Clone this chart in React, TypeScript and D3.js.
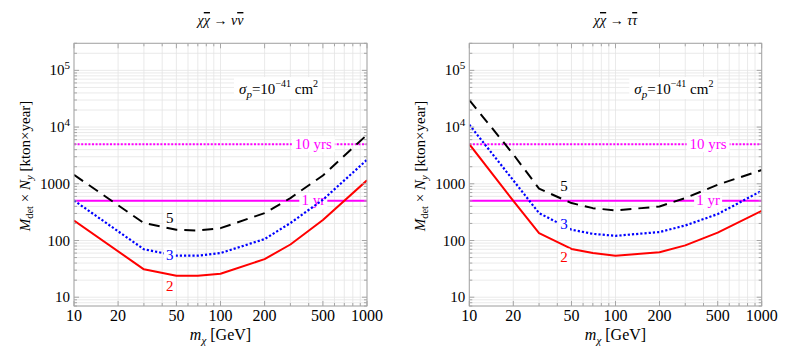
import React from "react";
import * as d3 from "d3";

// --- data ---
const massNu = [10, 30, 50, 70, 100, 200, 300, 500, 1000];
const nuSigma2 = [225, 31, 24, 24, 26, 47, 85, 230, 1150];
const nuSigma3 = [508, 70, 54, 54, 60, 106, 203, 523, 2650];
const nuSigma5 = [1440, 203, 155, 150, 165, 304, 560, 1400, 7300];

const massTau = [10, 20, 30, 50, 70, 100, 200, 300, 500, 1000];
const tauSigma2 = [5000, 500, 135, 71, 60, 54, 62, 82, 138, 334];
const tauSigma3 = [11000, 1150, 304, 155, 131, 121, 141, 184, 292, 753];
const tauSigma5 = [30000, 3300, 820, 457, 372, 339, 398, 560, 960, 1750];

const sigmaLabels = ["2", "3", "5"];
const nuLabelAt = [[45, 16], [45, 56], [45, 251]];
const tauLabelAt = [[44.5, 52], [44.5, 197], [44.5, 920]];

const xTickValues = [10, 20, 50, 100, 200, 500, 1000];
const yTickValues = [10, 100, 1000, 1e4, 1e5];
const exposureLines = [
  { value: 500, label: "1 yr", dotted: false, gap: 28 },
  { value: 5000, label: "10 yrs", dotted: true, gap: 43 },
];
const exposureLabelMass = 430;

const FONT = "Liberation Serif, Times New Roman, Times, DejaVu Serif, serif";
const styles = [
  { color: "#ff0000", dash: null, width: 2 },
  { color: "#0000ff", dash: "2.2,2", width: 2.2 },
  { color: "#000000", dash: "11,7", width: 2 },
];

function Panel({ x0, x1, masses, series, labelAt, final }: any) {
  const x = d3.scaleLog().domain([10, 1000]).range([x0, x1]);
  const y = d3.scaleLog().domain([7, 3e5]).range([306, 43.3]);
  const [top, bottom] = [y.range()[1], y.range()[0]];

  const xMinor: number[] = [];
  const yMinor: number[] = [];
  for (let d = 10; d < 1000; d *= 10)
    for (let k = 1; k < 10; k++) xMinor.push(d * k);
  xMinor.push(1000);
  for (let d = 1; d <= 1e5; d *= 10)
    for (let k = 1; k < 10; k++) {
      const v = d * k;
      if (v >= 7 && v <= 3e5) yMinor.push(v);
    }

  const line = d3
    .line<number>()
    .x((_, i) => x(masses[i]))
    .y((v) => y(v));

  const cx = (x0 + x1) / 2;

  return (
    <g fontFamily={FONT}>
      {/* grid */}
      {xMinor.map((v) => (
        <line key={"gx" + v} x1={x(v)} x2={x(v)} y1={top} y2={bottom} stroke="#e4e4e4" strokeWidth={0.8} />
      ))}
      {yMinor.map((v) => (
        <line key={"gy" + v} x1={x0} x2={x1} y1={y(v)} y2={y(v)} stroke="#e4e4e4" strokeWidth={0.8} />
      ))}

      {/* title */}
      <text x={cx} y={25} textAnchor="middle" fontSize={14}>
        <tspan fontStyle="italic">χ</tspan>
        <tspan fontStyle="italic" style={{ textDecoration: "overline" }}>χ</tspan>
        <tspan> → </tspan>
        <tspan fontStyle="italic">{final}</tspan>
        <tspan fontStyle="italic" style={{ textDecoration: "overline" }}>{final}</tspan>
      </text>

      {/* sigma label */}
      <rect x={x0 + 160} y={77} width={88} height={22} fill="white" />
      <text x={x0 + 165} y={94} fontSize={15}>
        <tspan fontStyle="italic">σ</tspan>
        <tspan fontStyle="italic" fontSize={11} dy={4}>p</tspan>
        <tspan dy={-4}>=10</tspan>
        <tspan fontSize={10} dy={-7}>−41</tspan>
        <tspan dy={7}> cm</tspan>
        <tspan fontSize={10} dy={-7}>2</tspan>
      </text>

      {/* exposure lines */}
      {exposureLines.map((e) => {
        const lx = x(exposureLabelMass);
        return (
          <g key={e.label}>
            <line x1={x0} x2={x1} y1={y(e.value)} y2={y(e.value)} stroke="#ff00ff" strokeWidth={2}
              strokeDasharray={e.dotted ? "2,1.6" : undefined} />
            <rect x={lx - e.gap / 2} y={y(e.value) - 8} width={e.gap} height={16} fill="white" />
            <text x={lx} y={y(e.value) + 4.5} textAnchor="middle" fontSize={15} fill="#ff00ff">
              {e.label}
            </text>
          </g>
        );
      })}

      {/* curves */}
      <defs>
        <clipPath id={"clip" + Math.round(x0)}>
          <rect x={x0} y={top} width={x1 - x0} height={bottom - top} />
        </clipPath>
      </defs>
      {series.map((vals: number[], i: number) => (
        <path key={"s" + i} d={line(vals) || ""} fill="none" stroke={styles[i].color}
          strokeWidth={styles[i].width} strokeDasharray={styles[i].dash || undefined}
          strokeLinejoin="round" clipPath={`url(#clip${Math.round(x0)})`} />
      ))}
      {labelAt.map((p: number[], i: number) => (
        <g key={"l" + i}>
          <rect x={x(p[0]) - 6} y={y(p[1]) - 8} width={12} height={16} fill="white" />
          <text x={x(p[0])} y={y(p[1])} dy="0.35em" textAnchor="middle"
            fontSize={15} fill={styles[i].color}>
            {sigmaLabels[i]}
          </text>
        </g>
      ))}

      {/* frame */}
      <rect x={x0} y={top} width={x1 - x0} height={bottom - top} fill="none" stroke="#a6a6a6" strokeWidth={1} />
      {xMinor.map((v) => {
        const major = xTickValues.includes(v);
        const len = major ? 5 : 3;
        return (
          <g key={"tx" + v}>
            <line x1={x(v)} x2={x(v)} y1={bottom} y2={bottom - len} stroke="#a6a6a6" />
            <line x1={x(v)} x2={x(v)} y1={top} y2={top + len} stroke="#a6a6a6" />
          </g>
        );
      })}
      {yMinor.map((v) => {
        const major = yTickValues.includes(v);
        const len = major ? 5 : 3;
        return (
          <g key={"ty" + v}>
            <line x1={x0} x2={x0 + len} y1={y(v)} y2={y(v)} stroke="#a6a6a6" />
            <line x1={x1} x2={x1 - len} y1={y(v)} y2={y(v)} stroke="#a6a6a6" />
          </g>
        );
      })}

      {/* tick labels */}
      {xTickValues.map((v) => (
        <text key={"xl" + v} x={x(v)} y={321} textAnchor="middle" fontSize={16}>
          {v}
        </text>
      ))}
      {yTickValues.map((v) => (
        <text key={"yl" + v} x={x0 - 4} y={y(v) + 5} textAnchor="end" fontSize={15}>
          {v < 1e4 ? (
            v
          ) : (
            <>
              <tspan>10</tspan>
              <tspan fontSize={11} dy={-6}>{Math.round(Math.log10(v))}</tspan>
            </>
          )}
        </text>
      ))}

      {/* axis labels */}
      <text x={cx} y={340} textAnchor="middle" fontSize={16}>
        <tspan fontStyle="italic">m</tspan>
        <tspan fontStyle="italic" fontSize={11} dy={4}>χ</tspan>
        <tspan dy={-4}> [GeV]</tspan>
      </text>
      <text transform={`translate(${x0 - 44},166) rotate(-90)`} textAnchor="middle" fontSize={15}>
        <tspan fontStyle="italic">M</tspan>
        <tspan fontSize={10.5} dy={3}>det</tspan>
        <tspan dy={-3}> × </tspan>
        <tspan fontStyle="italic">N</tspan>
        <tspan fontStyle="italic" fontSize={10.5} dy={3}>y</tspan>
        <tspan dy={-3}>  [kton×year]</tspan>
      </text>
    </g>
  );
}

export default function App() {
  return (
    <svg width={797} height={359} style={{ position: "absolute", left: 0, top: 0, background: "white" }}>
      <rect width={797} height={359} fill="white" />
      <Panel x0={74} x1={367} masses={massNu} series={[nuSigma2, nuSigma3, nuSigma5]} labelAt={nuLabelAt} final="ν" />
      <Panel x0={469.3} x1={761.7} masses={massTau} series={[tauSigma2, tauSigma3, tauSigma5]} labelAt={tauLabelAt} final="τ" />
    </svg>
  );
}
